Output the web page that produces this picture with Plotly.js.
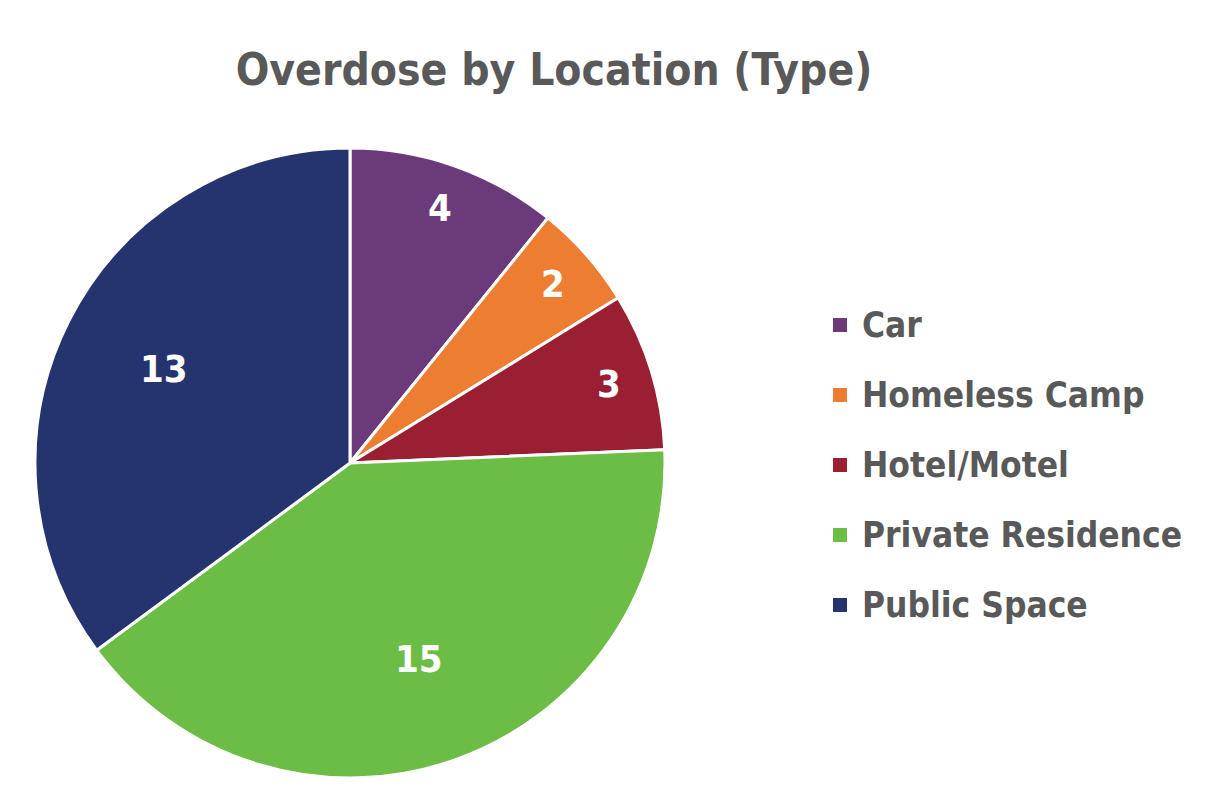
<!DOCTYPE html>
<html>
<head>
<meta charset="utf-8">
<script src="https://cdn.plot.ly/plotly-3.0.1.min.js"></script>
<style>html,body{margin:0;padding:0;background:#fff;}#chart{width:1220px;height:796px;}</style>
</head>
<body>
<div id="chart"></div>
<script>
const categories = ["Car", "Homeless Camp", "Hotel/Motel", "Private Residence", "Public Space"];
const counts = [4, 2, 3, 15, 13];
const sliceColors = ["#6A3A7A", "#ED7D31", "#9A1F33", "#6CBD45", "#25336E"];
const chartTitle = "Overdose by Location (Type)";

const FONT = "'Liberation Sans Narrow', 'Arial Narrow', 'DejaVu Sans Condensed', sans-serif";
const W = 1220, H = 796;
const CX = 350, CY = 463, R = 315;   // pie centre / radius in px

const trace = {
  type: "pie",
  labels: categories,
  values: counts,
  sort: false,
  direction: "clockwise",
  rotation: 0,
  marker: { colors: sliceColors, line: { color: "#ffffff", width: 3 } },
  textinfo: "none",
  domain: { x: [(CX - R) / W, (CX + R) / W], y: [(H - CY - R) / H, (H - CY + R) / H] },
  showlegend: false,
  hoverinfo: "label+value"
};

// value labels placed at slice mid-angles (derived from counts)
const total = counts.reduce((a, b) => a + b, 0);
const annotations = [];
let cum = 0;
counts.forEach((v, i) => {
  const share = v / total;
  const mid = (cum + v / 2) / total * 2 * Math.PI;
  cum += v;
  const frac = share < 0.15 ? 0.86 : 0.66;
  const px = CX + Math.sin(mid) * R * frac;
  const py = CY - Math.cos(mid) * R * frac;
  annotations.push({
    xref: "paper", yref: "paper", x: px / W, y: 1 - py / H,
    xanchor: "center", yanchor: "middle", showarrow: false,
    text: String(v),
    font: { family: FONT, size: 38, color: "#ffffff", weight: "bold" }
  });
});

// manual legend
const shapes = [];
const legTop = 325, legStep = 70, swX = 833, sw = 14, txX = 860;
categories.forEach((c, i) => {
  const y = legTop + i * legStep;
  shapes.push({
    type: "rect", xref: "paper", yref: "paper",
    x0: swX / W, x1: (swX + sw) / W, y0: 1 - (y + sw / 2) / H, y1: 1 - (y - sw / 2) / H,
    fillcolor: sliceColors[i], line: { width: 0 }
  });
  annotations.push({
    xref: "paper", yref: "paper", x: txX / W, y: 1 - y / H,
    xanchor: "left", yanchor: "middle", showarrow: false,
    text: c,
    font: { family: FONT, size: 35, color: "#595959", weight: "bold" }
  });
});

const layout = {
  width: W,
  height: H,
  margin: { l: 0, r: 0, t: 0, b: 0 },
  paper_bgcolor: "#ffffff",
  title: {
    text: chartTitle,
    font: { family: FONT, size: 44, color: "#595959", weight: "bold" },
    x: 554 / W, xanchor: "center",
    y: 1 - 70 / H, yanchor: "middle"
  },
  showlegend: false,
  annotations: annotations,
  shapes: shapes
};

Plotly.newPlot("chart", [trace], layout, { displayModeBar: false, staticPlot: true });
</script>
</body>
</html>
